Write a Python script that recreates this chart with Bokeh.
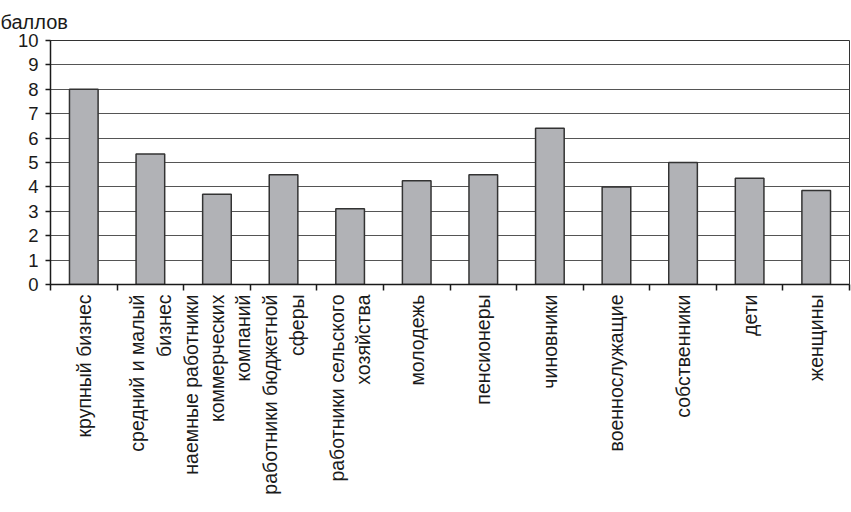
import math
from bokeh.plotting import figure
from bokeh.models import Range1d, FixedTicker, ColumnDataSource
from bokeh.embed import file_html
from bokeh.resources import INLINE

categories = [
    "крупный бизнес",
    "средний и малый\nбизнес",
    "наемные работники\nкоммерческих\nкомпаний",
    "работники бюджетной\nсферы",
    "работники сельского\nхозяйства",
    "молодежь",
    "пенсионеры",
    "чиновники",
    "военнослужащие",
    "собственники",
    "дети",
    "женщины",
]
values = [8.0, 5.35, 3.7, 4.5, 3.1, 4.25, 4.5, 6.4, 4.0, 5.0, 4.35, 3.85]
y_ticks = [0, 1, 2, 3, 4, 5, 6, 7, 8, 9, 10]
y_label = "баллов"

n = len(categories)
centers = [i + 0.5 for i in range(n)]
bounds = list(range(n + 1))

src = ColumnDataSource(dict(x=centers, top=values))

p = figure(
    frame_width=799, frame_height=244,
    x_range=Range1d(0, n), y_range=Range1d(0, 10),
    output_backend="svg", toolbar_location=None,
    min_border_left=50, min_border_right=2, min_border_top=40, min_border_bottom=0,
    title=y_label,
)
p.title.text_font = "Liberation Sans"
p.title.text_font_size = "20px"
p.title.text_font_style = "normal"
p.title.text_color = "#1a1a1a"
p.title.align = "left"
p.title.offset = -50
p.title.standoff = 16

p.vbar(x="x", top="top", width=0.43, source=src,
       fill_color="#b1b2b6", line_color="#333333", line_width=1.5)

p.outline_line_color = "#333333"
p.outline_line_width = 1
p.background_fill_color = "white"
p.border_fill_color = "white"

p.xgrid.grid_line_color = None
p.ygrid.ticker = FixedTicker(ticks=y_ticks)
p.ygrid.grid_line_color = "#555555"
p.ygrid.grid_line_width = 1

ya = p.yaxis[0]
ya.ticker = FixedTicker(ticks=y_ticks)
ya.major_tick_out = 5
ya.major_tick_in = 0
ya.minor_tick_out = 0
ya.minor_tick_in = 0
ya.axis_line_color = "#1a1a1a"
ya.axis_line_width = 1.5
ya.major_tick_line_color = "#1a1a1a"
ya.major_tick_line_width = 1.5
ya.major_label_text_font = "Liberation Sans"
ya.major_label_text_font_size = "18.5px"
ya.major_label_text_color = "#1a1a1a"
ya.major_label_standoff = 7

xa = p.xaxis[0]
xa.ticker = FixedTicker(ticks=centers, minor_ticks=bounds)
xa.major_label_overrides = {c: lab for c, lab in zip(centers, categories)}
xa.major_tick_out = 0
xa.major_tick_in = 0
xa.minor_tick_out = 6
xa.minor_tick_in = 0
xa.minor_tick_line_color = "#1a1a1a"
xa.minor_tick_line_width = 1.5
xa.axis_line_color = "#1a1a1a"
xa.axis_line_width = 1.5
xa.major_label_orientation = math.pi / 2
xa.major_label_text_font = "Liberation Sans"
xa.major_label_text_font_size = "19.5px"
xa.major_label_text_color = "#1a1a1a"
xa.major_label_standoff = 4

open("out.html", "w").write(file_html(p, INLINE))
